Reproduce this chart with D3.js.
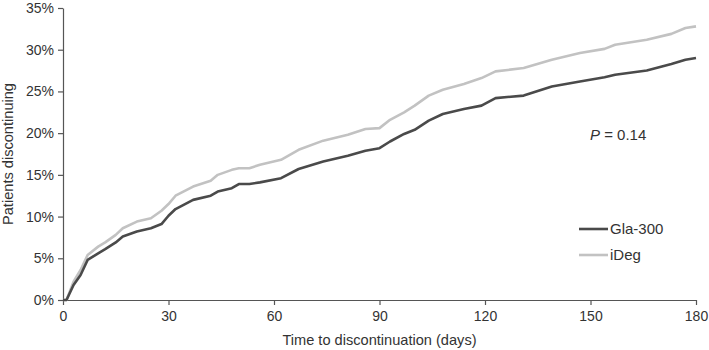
<!DOCTYPE html>
<html>
<head>
<meta charset="utf-8">
<script src="https://cdn.jsdelivr.net/npm/d3@7"></script>
<style>
  body { margin: 0; background: #fff; }
  text { font-family: "Liberation Sans", Arial, sans-serif; fill: #333; }
</style>
</head>
<body>
<div id="chart"></div>
<script>
//  data
var DAYS = [0, 1, 3, 5, 7, 10, 12, 15, 17, 21, 25, 28, 30, 32, 37, 42, 44, 48, 50, 53, 56,
  62, 67, 74, 81, 86, 90, 93, 97, 100, 104, 108, 114, 119, 123, 131, 139, 147, 154, 157,
  166, 173, 177, 180];
var GLA300 = [0, 0, 1.8, 3.0, 4.8, 5.6, 6.1, 6.9, 7.6, 8.2, 8.6, 9.1, 10.1, 10.9, 12.0, 12.5,
  13.0, 13.4, 13.9, 13.9, 14.1, 14.6, 15.7, 16.6, 17.3, 17.9, 18.2, 19.0, 19.9, 20.4, 21.5,
  22.3, 22.9, 23.3, 24.2, 24.5, 25.6, 26.2, 26.7, 27.0, 27.5, 28.3, 28.8, 29.0];
var IDEG = [0, 0, 2.2, 3.6, 5.4, 6.4, 6.9, 7.8, 8.6, 9.4, 9.8, 10.7, 11.5, 12.5, 13.6, 14.3,
  15.0, 15.6, 15.8, 15.8, 16.2, 16.8, 18.0, 19.1, 19.8, 20.5, 20.6, 21.6, 22.5, 23.3, 24.5,
  25.2, 25.9, 26.6, 27.4, 27.8, 28.8, 29.6, 30.1, 30.6, 31.2, 31.9, 32.6, 32.8];
var X_TICKS = [0, 30, 60, 90, 120, 150, 180];
var Y_TICKS = [0, 5, 10, 15, 20, 25, 30, 35];
var SERIES_NAMES = ["Gla-300", "iDeg"];
var P_LABEL = "0.14";

function draw_chart() {
  const w = 709
  const h = 350
  const margin = ({top: 8, right: 13, bottom: 50, left: 63})
  const colors = ["#4a4a4a", "#c2c2c2"]

  const svg = d3.select("#chart").append("svg").attr("width", w).attr("height", h)

  const x = d3.scaleLinear().domain([0, 180]).range([margin.left, w - margin.right])
  const y = d3.scaleLinear().domain([0, 35]).range([h - margin.bottom, margin.top])

  // axes
  const xAxis = svg.append("g")
    .attr("transform", `translate(0,${h - margin.bottom})`)
    .call(d3.axisBottom(x).tickValues(X_TICKS).tickSize(5).tickPadding(6).tickSizeOuter(0))
  const yAxis = svg.append("g")
    .attr("transform", `translate(${margin.left},0)`)
    .call(d3.axisLeft(y).tickValues(Y_TICKS).tickSize(5).tickPadding(4).tickSizeOuter(0).tickFormat(d => d + "%"))

  ;[xAxis, yAxis].forEach(g => {
    g.selectAll(".domain").attr("stroke", "#555").attr("stroke-width", 1.2)
    g.selectAll(".tick line").attr("stroke", "#555").attr("stroke-width", 1.2)
    g.selectAll(".tick text").style("font-size", "14px").attr("fill", "#333")
      .style("font-family", "'Liberation Sans', Arial, sans-serif")
  })

  // curves
  const series = [GLA300, IDEG]
  const line = d3.line().x((d, i) => x(DAYS[i])).y(d => y(d))
  // light one first, dark on top
  ;[1, 0].forEach(k => {
    svg.append("path")
      .datum(series[k])
      .attr("fill", "none")
      .attr("stroke", colors[k])
      .attr("stroke-width", 2.6)
      .attr("stroke-linejoin", "round")
      .attr("d", line)
  })

  // legend
  SERIES_NAMES.forEach((name, i) => {
    const ly = 229 + i * 26
    svg.append("line")
      .attr("x1", 579).attr("x2", 608)
      .attr("y1", ly).attr("y2", ly)
      .attr("stroke", colors[i]).attr("stroke-width", 2.6)
    svg.append("text")
      .attr("x", 610).attr("y", ly + 5)
      .style("font-size", "15px")
      .text(name)
  })

  // p value
  const p = svg.append("text").attr("x", 590).attr("y", 140).style("font-size", "15px")
  p.append("tspan").style("font-style", "italic").text("P")
  p.append("tspan").text(" = " + P_LABEL)

  // axis titles
  svg.append("text")
    .attr("x", (margin.left + w - margin.right) / 2)
    .attr("y", 345)
    .attr("text-anchor", "middle")
    .style("font-size", "14.6px")
    .text("Time to discontinuation (days)")

  svg.append("text")
    .attr("transform", `translate(13,${(margin.top + h - margin.bottom) / 2}) rotate(-90)`)
    .attr("text-anchor", "middle")
    .style("font-size", "14.6px")
    .text("Patients discontinuing")
}

draw_chart();
</script>
</body>
</html>
